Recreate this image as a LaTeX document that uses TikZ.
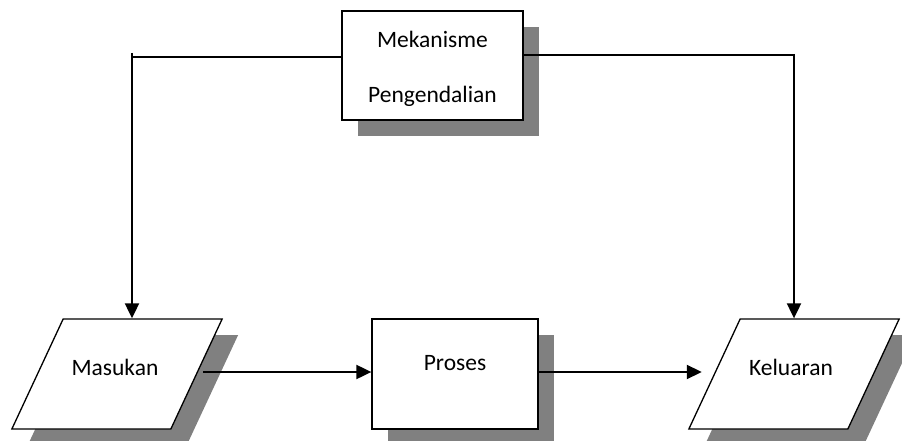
\documentclass[tikz,border=0pt]{standalone}
\usepackage{fontspec}
\setmainfont{Carlito}
\usetikzlibrary{shapes.geometric,shadows,arrows.meta}
\definecolor{shadowgray}{RGB}{128,128,128}
\tikzset{
  shade16/.style={drop shadow={shadow xshift=16pt,shadow yshift=-16pt,fill=shadowgray,opacity=1}},
  boxshape/.style={draw,fill=white,line width=1.3pt,inner sep=0pt,shade16},
  paralshape/.style={draw,fill=white,line width=1.3pt,shape=trapezium,
    trapezium left angle=65,trapezium right angle=115,
    inner xsep=53.85pt,inner ysep=55pt,shade16},
  lbl/.style={anchor=base,inner sep=0pt,font=\fontsize{23.5}{28}\selectfont},
  feed/.style={line width=1.5pt},
  flow/.style={line width=2pt,-{Triangle[length=15pt,width=14pt]}},
}
\begin{document}
\begin{tikzpicture}[x=1pt,y=-1pt]
\useasboundingbox (0,0) rectangle (902,441);
\clip (0,0) rectangle (902,441);

% control mechanism box
\node[boxshape,minimum width=181pt,minimum height=109pt] (ctl) at (432.5,65.5) {};
\node[lbl] (ctl1) at (432.5,48) {Mekanisme};
\node[lbl] (ctl2) at (432.5,103) {Pengendalian};

% input, process, output
\node[paralshape] (in) at (117,374) {};
\node[boxshape,minimum width=166pt,minimum height=110pt] (proc) at (455,374) {};
\node[paralshape] (out) at (794,374) {};
\node[lbl] (inl) at (115,375) {Masukan};
\node[lbl] (procl) at (455,370) {Proses};
\node[lbl] (outl) at (791,375) {Keluaran};

% control lines
\coordinate (cl) at (132,57);
\coordinate (cr) at (794,55);
\draw[feed] (ctl.west |- cl) -- (cl);
\draw[feed] (ctl.east |- cr) -- (cr);
\draw[flow] ([yshift=4pt]cl) -- (cl |- in.north);
\draw[flow] ([yshift=1pt]cr) -- (cr |- out.north);

% main flow
\draw[flow] ([xshift=6pt,yshift=2pt]in.east) -- ([yshift=2pt]proc.west);
\draw[flow] ([yshift=2pt]proc.east) -- ([xshift=-12pt,yshift=2pt]out.west);
\end{tikzpicture}
\end{document}
